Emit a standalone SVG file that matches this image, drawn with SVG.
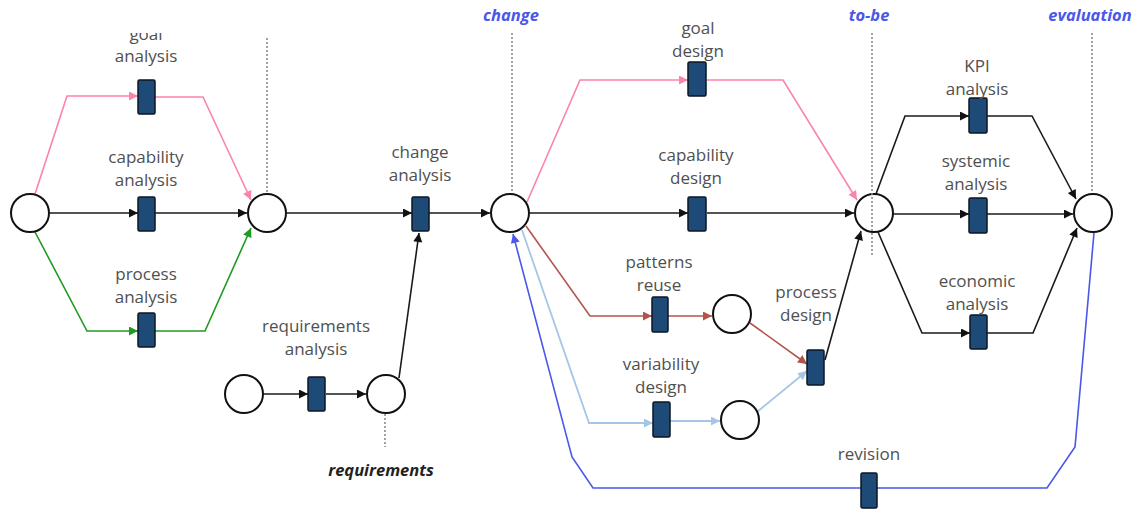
<svg xmlns="http://www.w3.org/2000/svg" width="1140" height="510" viewBox="0 0 1140 510">
<style>
.pl{fill:#fff;stroke:#111;stroke-width:2}
.tr{fill:#1d4a77;stroke:#0d1620;stroke-width:1.5}
.lb{font-family:"Open Sans","DejaVu Sans",sans-serif;font-size:17px;fill:#505050;text-anchor:middle}
.st{font-family:"Open Sans","DejaVu Sans",sans-serif;font-size:16.5px;font-weight:bold;font-style:italic;text-anchor:middle}
.dt{stroke:#8a8a8a;stroke-width:1.6;stroke-dasharray:2 2;fill:none}
.k{stroke:#1a1a1a;stroke-width:1.6;fill:none}
.pk{stroke:#fb83ad;stroke-width:1.6;fill:none}
.gr{stroke:#1f9a24;stroke-width:1.6;fill:none}
.br{stroke:#b3544c;stroke-width:1.6;fill:none}
.lbl{stroke:#a6c6e8;stroke-width:1.8;fill:none}
.bl{stroke:#4a57ea;stroke-width:1.6;fill:none}
</style>
<defs>
<marker id="mk" viewBox="0 0 10 10" refX="10" refY="5" markerWidth="10" markerHeight="9" markerUnits="userSpaceOnUse" orient="auto"><path d="M0,0L10,5L0,10z" fill="#111"/></marker>
<marker id="mp" viewBox="0 0 10 10" refX="10" refY="5" markerWidth="10" markerHeight="9" markerUnits="userSpaceOnUse" orient="auto"><path d="M0,0L10,5L0,10z" fill="#fb83ad"/></marker>
<marker id="mg" viewBox="0 0 10 10" refX="10" refY="5" markerWidth="10" markerHeight="9" markerUnits="userSpaceOnUse" orient="auto"><path d="M0,0L10,5L0,10z" fill="#1f9a24"/></marker>
<marker id="mb" viewBox="0 0 10 10" refX="10" refY="5" markerWidth="10" markerHeight="9" markerUnits="userSpaceOnUse" orient="auto"><path d="M0,0L10,5L0,10z" fill="#b3544c"/></marker>
<marker id="ml" viewBox="0 0 10 10" refX="10" refY="5" markerWidth="10" markerHeight="9" markerUnits="userSpaceOnUse" orient="auto"><path d="M0,0L10,5L0,10z" fill="#a6c6e8"/></marker>
<marker id="mu" viewBox="0 0 10 10" refX="10" refY="5" markerWidth="10" markerHeight="9" markerUnits="userSpaceOnUse" orient="auto"><path d="M0,0L10,5L0,10z" fill="#4a57ea"/></marker>
<clipPath id="cg"><rect x="0" y="33" width="300" height="40"/></clipPath>
</defs>

<g id="stage-labels">
<text class="st" x="511" y="21" fill="#4a57ea">change</text>
<text class="st" x="869" y="21" fill="#4a57ea">to-be</text>
<text class="st" x="1090" y="21" fill="#4a57ea">evaluation</text>
<text class="st" x="381" y="476" fill="#222">requirements</text>
</g>

<g id="milestones">
<path class="dt" d="M267,38V193"/>
<path class="dt" d="M512,33V193"/>
<path class="dt" d="M1092,33V193"/>
<path class="dt" d="M385,414V447"/>
</g>

<g id="connectors">
<path class="k" marker-end="url(#mk)" d="M50,213H138"/>
<path class="k" marker-end="url(#mk)" d="M155,213H247"/>
<path class="k" marker-end="url(#mk)" d="M287,213H412"/>
<path class="k" marker-end="url(#mk)" d="M429,213H490"/>
<path class="k" marker-end="url(#mk)" d="M530,213H688"/>
<path class="k" marker-end="url(#mk)" d="M707,213H854"/>
<path class="k" marker-end="url(#mk)" d="M263,394H308"/>
<path class="k" marker-end="url(#mk)" d="M326,394H366"/>
<path class="k" marker-end="url(#mk)" d="M399,378L419,233"/>
<path class="k" marker-end="url(#mk)" d="M825,360L861,231"/>
<path class="k" marker-end="url(#mk)" d="M876,194L905,116H969"/>
<path class="k" marker-end="url(#mk)" d="M987,116H1032L1076,199"/>
<path class="k" marker-end="url(#mk)" d="M893,214H969"/>
<path class="k" marker-end="url(#mk)" d="M987,214H1073"/>
<path class="k" marker-end="url(#mk)" d="M878,232L922,333H970"/>
<path class="k" marker-end="url(#mk)" d="M987,333H1033L1077,228"/>
<path class="pk" marker-end="url(#mp)" d="M35,194L67,96H138"/>
<path class="pk" marker-end="url(#mp)" d="M155,97H203L251,200"/>
<path class="pk" marker-end="url(#mp)" d="M527,202L580,80H688"/>
<path class="pk" marker-end="url(#mp)" d="M707,80H783L857,200"/>
<path class="gr" marker-end="url(#mg)" d="M35,232L87,331H138"/>
<path class="gr" marker-end="url(#mg)" d="M155,331H205L251,228"/>
<path class="br" marker-end="url(#mb)" d="M526,226L590,316H652"/>
<path class="br" marker-end="url(#mb)" d="M668,316H712"/>
<path class="br" marker-end="url(#mb)" d="M750,323L807,364"/>
<path class="lbl" marker-end="url(#ml)" d="M522,230L589,423H653"/>
<path class="lbl" marker-end="url(#ml)" d="M670,421H720"/>
<path class="lbl" marker-end="url(#ml)" d="M757,412L807,371"/>
<path class="bl" marker-end="url(#mu)" d="M1094,233L1075,447L1047,488H593L572,457L513,234"/>
</g>

<g id="p-start"><circle class="pl" cx="30" cy="213" r="19"/></g>
<g id="p-asis"><circle class="pl" cx="267" cy="213" r="19"/></g>
<g id="p-change"><circle class="pl" cx="510" cy="213" r="19"/></g>
<g id="p-req-start"><circle class="pl" cx="244" cy="394" r="19"/></g>
<g id="p-requirements"><circle class="pl" cx="386" cy="394" r="19"/></g>
<g id="p-patterns"><circle class="pl" cx="732" cy="314" r="19"/></g>
<g id="p-variability"><circle class="pl" cx="740" cy="420" r="19"/></g>
<g id="p-tobe"><circle class="pl" cx="874" cy="213" r="19"/><path class="dt" d="M872,33V257"/></g>
<g id="p-evaluation"><circle class="pl" cx="1093" cy="213" r="19"/></g>

<g id="t-goal-analysis"><rect class="tr" x="138" y="80" width="17" height="34" rx="1.5"/><text class="lb" x="146" y="40" clip-path="url(#cg)">goal</text><text class="lb" x="146" y="62">analysis</text></g>
<g id="t-capability-analysis"><rect class="tr" x="138" y="197" width="17" height="34" rx="1.5"/><text class="lb" x="146" y="163">capability</text><text class="lb" x="146" y="186">analysis</text></g>
<g id="t-process-analysis"><rect class="tr" x="138" y="313" width="17" height="34" rx="1.5"/><text class="lb" x="146" y="280">process</text><text class="lb" x="146" y="303">analysis</text></g>
<g id="t-change-analysis"><rect class="tr" x="412" y="197" width="17" height="34" rx="1.5"/><text class="lb" x="420" y="158">change</text><text class="lb" x="420" y="181">analysis</text></g>
<g id="t-requirements-analysis"><rect class="tr" x="308" y="377" width="17" height="34" rx="1.5"/><text class="lb" x="316" y="332">requirements</text><text class="lb" x="316" y="355">analysis</text></g>
<g id="t-goal-design"><rect class="tr" x="688" y="62" width="18" height="34" rx="1.5"/><text class="lb" x="698" y="34">goal</text><text class="lb" x="698" y="57">design</text></g>
<g id="t-capability-design"><rect class="tr" x="688" y="197" width="18" height="34" rx="1.5"/><text class="lb" x="696" y="161">capability</text><text class="lb" x="696" y="184">design</text></g>
<g id="t-patterns-reuse"><rect class="tr" x="652" y="297" width="16" height="35" rx="1.5"/><text class="lb" x="659" y="268">patterns</text><text class="lb" x="659" y="291">reuse</text></g>
<g id="t-variability-design"><rect class="tr" x="653" y="402" width="17" height="35" rx="1.5"/><text class="lb" x="661" y="370">variability</text><text class="lb" x="661" y="393">design</text></g>
<g id="t-process-design"><rect class="tr" x="807" y="350" width="17" height="35" rx="1.5"/><text class="lb" x="806" y="298">process</text><text class="lb" x="806" y="321">design</text></g>
<g id="t-kpi-analysis"><rect class="tr" x="969" y="98" width="18" height="35" rx="1.5"/><text class="lb" x="977" y="72">KPI</text><text class="lb" x="977" y="95">analysis</text></g>
<g id="t-systemic-analysis"><rect class="tr" x="969" y="198" width="18" height="35" rx="1.5"/><text class="lb" x="976" y="167">systemic</text><text class="lb" x="976" y="190">analysis</text></g>
<g id="t-economic-analysis"><rect class="tr" x="970" y="315" width="17" height="34" rx="1.5"/><text class="lb" x="977" y="287">economic</text><text class="lb" x="977" y="310">analysis</text></g>
<g id="t-revision"><rect class="tr" x="861" y="473" width="16" height="35" rx="1.5"/><text class="lb" x="869" y="460">revision</text></g>
</svg>
